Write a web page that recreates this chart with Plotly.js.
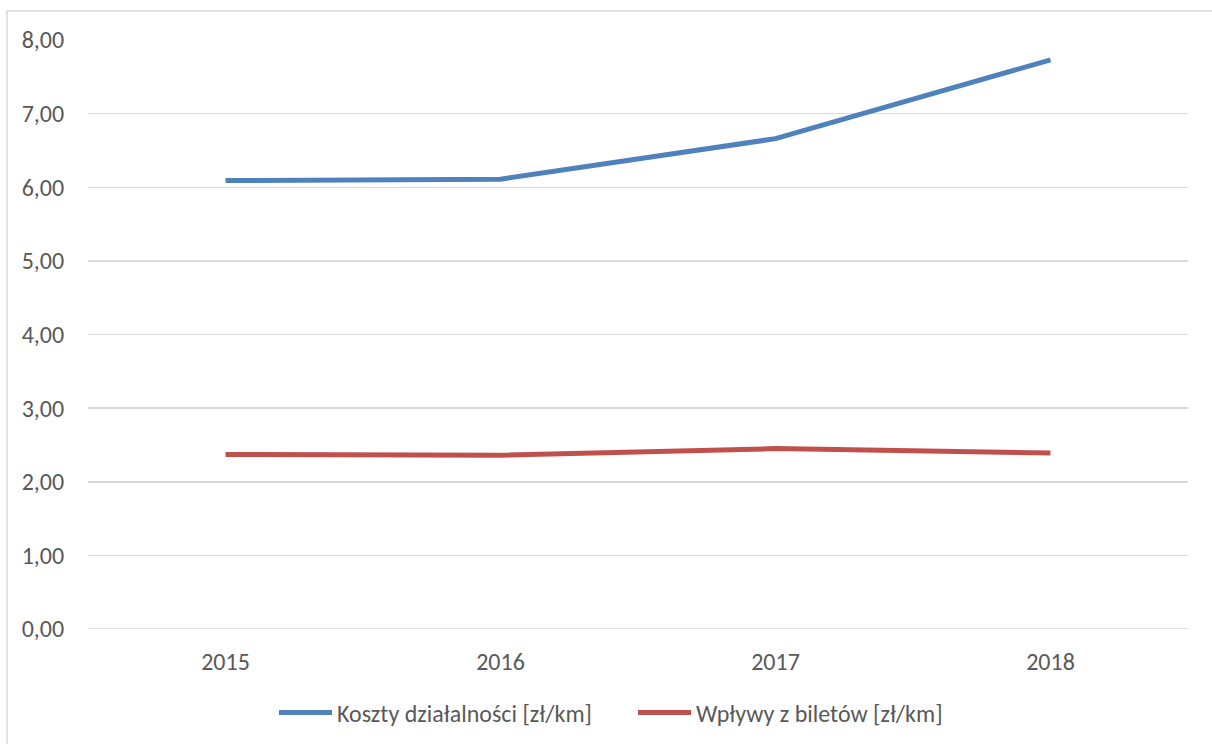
<!DOCTYPE html>
<html>
<head>
<meta charset="utf-8">
<script src="https://cdn.plot.ly/plotly-3.0.1.min.js"></script>
<style>html,body{margin:0;padding:0;background:#fff;}#chart{width:1212px;height:744px;}</style>
</head>
<body>
<div id="chart"></div>
<script>
const years = ['2015', '2016', '2017', '2018'];
const koszty = [6.09, 6.11, 6.66, 7.73];
const wplywy = [2.37, 2.36, 2.45, 2.39];
const seriesNames = ['Koszty działalności [zł/km]', 'Wpływy z biletów [zł/km]'];

const font = 'Calibri, Carlito, "Open Sans", "Noto Sans", sans-serif';

const traces = [
  {x: years, y: koszty, name: seriesNames[0], type: 'scatter', mode: 'lines',
   line: {color: '#4f81bd', width: 5}},
  {x: years, y: wplywy, name: seriesNames[1], type: 'scatter', mode: 'lines',
   line: {color: '#c0504d', width: 5}}
];

const layout = {
  width: 1212, height: 744,
  margin: {l: 88, r: 24, t: 40, b: 115},
  paper_bgcolor: '#fff', plot_bgcolor: '#fff',
  separators: ',.',
  font: {family: font, size: 24, color: '#595959'},
  showlegend: true,
  legend: {orientation: 'h', xref: 'container', yref: 'container',
           x: 274/1212, xanchor: 'left', y: (744-713)/744, yanchor: 'middle',
           font: {size: 24, color: '#595959'}, itemwidth: 53,
           entrywidth: 291, entrywidthmode: 'pixels'},
  xaxis: {type: 'category', range: [-0.5, 3.5], showgrid: false, zeroline: false, automargin: false,
          showline: false, ticks: 'outside', ticklen: 11, tickcolor: 'rgba(0,0,0,0)', fixedrange: true},
  yaxis: {range: [0, 8], dtick: 1, tickformat: '.2f', showgrid: true, gridcolor: '#d9d9d9', gridwidth: 1.5,
          zeroline: false, showline: false, automargin: false, ticks: 'outside', ticklen: 18, tickcolor: 'rgba(0,0,0,0)', fixedrange: true},
  shapes: [
    {type: 'line', xref: 'x', yref: 'y', x0: -0.5, x1: 3.5, y0: 0, y1: 0, line: {color: '#d9d9d9', width: 1.5}, layer: 'below'},
    {type: 'rect', xref: 'paper', yref: 'paper', x0: (7-88)/1100, x1: 1.05, y0: -0.3, y1: 1 + 29/589,
     line: {color: '#d9d9d9', width: 1.5}, fillcolor: 'rgba(0,0,0,0)'}
  ]
};

Plotly.newPlot('chart', traces, layout, {displayModeBar: false, staticPlot: true});
</script>
</body>
</html>
